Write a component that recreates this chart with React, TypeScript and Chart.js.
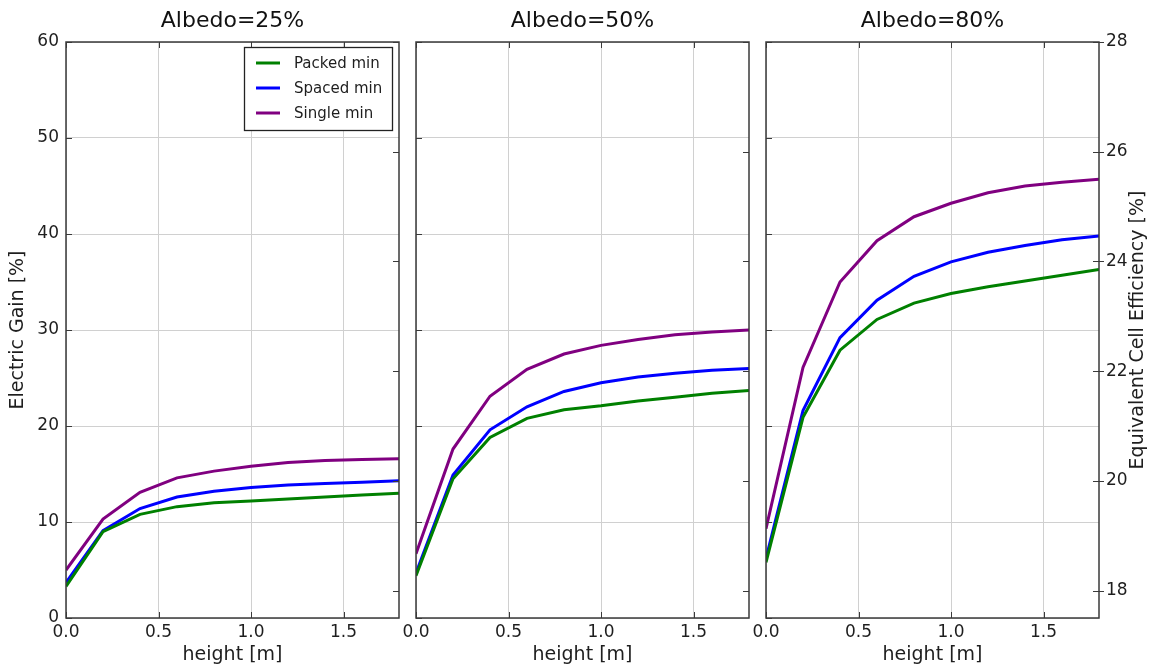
import React, { useEffect, useRef } from "react";
import { Chart, registerables } from "chart.js";

Chart.register(...registerables);

// ---------- data ----------
const heights = [0, 0.2, 0.4, 0.6, 0.8, 1.0, 1.2, 1.4, 1.6, 1.8];
const seriesNames = ["Packed min", "Spaced min", "Single min"];
const seriesColors = ["#008000", "#0000ff", "#800080"];
const albedoTitles = ["Albedo=25%", "Albedo=50%", "Albedo=80%"];

const packed25 = [3.3, 9.0, 10.8, 11.6, 12.0, 12.2, 12.4, 12.6, 12.8, 13.0];
const spaced25 = [3.7, 9.1, 11.4, 12.6, 13.2, 13.6, 13.85, 14.0, 14.15, 14.3];
const single25 = [5.0, 10.3, 13.1, 14.6, 15.3, 15.8, 16.2, 16.4, 16.5, 16.6];

const packed50 = [4.4, 14.5, 18.8, 20.8, 21.7, 22.1, 22.6, 23.0, 23.4, 23.7];
const spaced50 = [4.7, 14.9, 19.6, 22.0, 23.6, 24.5, 25.1, 25.5, 25.8, 26.0];
const single50 = [6.7, 17.6, 23.1, 25.9, 27.5, 28.4, 29.0, 29.5, 29.8, 30.0];

const packed80 = [5.8, 20.9, 27.9, 31.1, 32.8, 33.8, 34.5, 35.1, 35.7, 36.3];
const spaced80 = [6.2, 21.6, 29.2, 33.1, 35.6, 37.1, 38.1, 38.8, 39.4, 39.8];
const single80 = [9.3, 26.1, 35.0, 39.3, 41.8, 43.2, 44.3, 45.0, 45.4, 45.7];

const gainMin = 0;
const gainMax = 60;
const gainStep = 10;
const effMin = 17.5;
const effMax = 28;
const effTicks = [18, 20, 22, 24, 26, 28];
const xMin = 0;
const xMax = 1.8;
const xStep = 0.5;

const panelSeries = [
  [packed25, spaced25, single25],
  [packed50, spaced50, single50],
  [packed80, spaced80, single80],
];

// ---------- style / layout ----------
const FONT = "'DejaVu Sans', sans-serif";
const TEXT = "#1e1e1e";
const GRID = "#d0d0d0";
const SPINE = "#3a3a3a";

const PANELS = [
  { left: 0, width: 408, yWidth: 66, rightPad: 9 },
  { left: 380, width: 380, yWidth: 36, rightPad: 11 },
  { left: 730, width: 422, yWidth: 36, rightPad: 0 },
];

const framePlugin = {
  id: "mplFrame",
  afterDatasetsDraw(chart: any, _args: any, opts: any) {
    const { ctx, chartArea: a, scales } = chart;
    const L = 6;
    ctx.save();
    ctx.strokeStyle = SPINE;
    ctx.lineWidth = 1;
    const seg = (x1: number, y1: number, x2: number, y2: number) => {
      ctx.beginPath();
      ctx.moveTo(x1, y1);
      ctx.lineTo(x2, y2);
      ctx.stroke();
    };
    scales.x.ticks.forEach((t: any) => {
      const px = Math.round(scales.x.getPixelForValue(t.value)) + 0.5;
      seg(px, a.top, px, a.top + L);
      seg(px, a.bottom, px, a.bottom - L);
    });
    scales.y.ticks.forEach((t: any) => {
      const py = Math.round(scales.y.getPixelForValue(t.value)) + 0.5;
      seg(a.left, py, a.left + L, py);
    });
    effTicks.forEach((v) => {
      const py = Math.round(scales.y2.getPixelForValue(v)) + 0.5;
      seg(a.right - L, py, a.right + (opts && opts.effOutward ? 5 : 0), py);
    });
    ctx.lineWidth = 1.5;
    ctx.strokeRect(a.left, a.top, a.right - a.left, a.bottom - a.top);
    ctx.restore();
  },
};

const legendPlugin = {
  id: "mplLegend",
  afterDraw(chart: any, _args: any, opts: any) {
    if (!opts || !opts.show) return;
    const { ctx, chartArea: a } = chart;
    const ds = chart.data.datasets;
    ctx.save();
    ctx.font = `15px ${FONT}`;
    const textW = Math.max(...ds.map((d: any) => ctx.measureText(d.label).width));
    const w = Math.round(12 + 24 + 14 + textW + 10);
    const rowH = 25;
    const h = 16 + rowH * (ds.length - 1) + 17;
    const x0 = Math.round(a.right - 7 - w);
    const y0 = Math.round(a.top + 5);
    ctx.fillStyle = "#fff";
    ctx.fillRect(x0, y0, w, h);
    ctx.strokeStyle = "#222";
    ctx.lineWidth = 1.3;
    ctx.strokeRect(x0 + 0.5, y0 + 0.5, w, h);
    ds.forEach((d: any, k: number) => {
      const y = y0 + 16 + k * rowH;
      ctx.strokeStyle = d.borderColor;
      ctx.lineWidth = 3;
      ctx.beginPath();
      ctx.moveTo(x0 + 12, y);
      ctx.lineTo(x0 + 36, y);
      ctx.stroke();
      ctx.fillStyle = TEXT;
      ctx.textBaseline = "middle";
      ctx.textAlign = "left";
      ctx.fillText(d.label, x0 + 50, y + 1);
    });
    ctx.restore();
  },
};

const rightTitlePlugin = {
  id: "mplRightTitle",
  afterDraw(chart: any, _args: any, opts: any) {
    if (!opts || !opts.text) return;
    const { ctx, chartArea: a } = chart;
    ctx.save();
    ctx.font = `19px ${FONT}`;
    ctx.fillStyle = TEXT;
    ctx.textAlign = "center";
    ctx.textBaseline = "middle";
    ctx.translate(chart.width - 14, (a.top + a.bottom) / 2);
    ctx.rotate(-Math.PI / 2);
    ctx.fillText(opts.text, 0, 0);
    ctx.restore();
  },
};

function makeConfig(i: number): any {
  const p = PANELS[i];
  const showLeft = i === 0;
  const showRight = i === 2;
  const tickFont = { family: FONT, size: 17 };
  const titleFont = { family: FONT, size: 19 };
  return {
    type: "line",
    data: {
      datasets: seriesNames.map((name, k) => ({
        label: name,
        data: heights.map((h, j) => ({ x: h, y: panelSeries[i][k][j] })),
        borderColor: seriesColors[k],
        backgroundColor: seriesColors[k],
        borderWidth: 3,
        pointRadius: 0,
        tension: 0,
        fill: false,
        yAxisID: "y",
      })),
    },
    options: {
      responsive: false,
      maintainAspectRatio: false,
      animation: false,
      events: [],
      layout: { padding: { left: 0, right: p.rightPad, top: 0, bottom: 0 } },
      plugins: {
        legend: { display: false },
        tooltip: { enabled: false },
        title: {
          display: true,
          text: albedoTitles[i],
          fullSize: false,
          color: "#111",
          font: { family: FONT, size: 22, weight: "normal", lineHeight: 1.1 },
          padding: { top: 9, bottom: 8.8 },
        },
        mplLegend: { show: i === 0 },
        mplFrame: { effOutward: showRight },
        mplRightTitle: { text: showRight ? "Equivalent Cell Efficiency [%]" : "" },
      },
      scales: {
        x: {
          type: "linear",
          min: xMin,
          max: xMax,
          grid: { color: GRID, drawTicks: false, lineWidth: 1 },
          border: { display: false },
          ticks: {
            stepSize: xStep,
            includeBounds: false,
            autoSkip: false,
            maxRotation: 0,
            color: TEXT,
            font: tickFont,
            padding: 4,
            callback: (v: any) => Number(v).toFixed(1),
          },
          title: {
            display: true,
            text: "height [m]",
            color: TEXT,
            font: titleFont,
            padding: { top: 0, bottom: 0 },
          },
          afterFit: (s: any) => {
            s.height = 48;
            s.paddingLeft = 0;
            s.paddingRight = 0;
          },
        },
        y: {
          position: "left",
          min: gainMin,
          max: gainMax,
          grid: { color: GRID, drawTicks: false, lineWidth: 1 },
          border: { display: false },
          ticks: {
            stepSize: gainStep,
            display: showLeft,
            color: TEXT,
            font: tickFont,
            padding: 7,
          },
          title: {
            display: showLeft,
            text: "Electric Gain [%]",
            color: TEXT,
            font: titleFont,
            padding: { top: 7, bottom: 0 },
          },
          afterFit: (s: any) => {
            s.width = p.yWidth;
            s.paddingTop = 0;
            s.paddingBottom = 0;
          },
        },
        y2: {
          position: "right",
          display: showRight,
          min: effMin,
          max: effMax,
          grid: { drawOnChartArea: false, drawTicks: false },
          border: { display: false },
          ticks: {
            stepSize: 2,
            includeBounds: false,
            color: TEXT,
            font: tickFont,
            padding: 7,
          },
          afterFit: (s: any) => {
            if (showRight) {
              s.width = 53;
              s.paddingTop = 0;
              s.paddingBottom = 0;
            }
          },
        },
      },
    },
    plugins: [framePlugin, legendPlugin, rightTitlePlugin],
  };
}

export default function App() {
  const r0 = useRef<HTMLCanvasElement>(null);
  const r1 = useRef<HTMLCanvasElement>(null);
  const r2 = useRef<HTMLCanvasElement>(null);
  const refs = [r0, r1, r2];

  useEffect(() => {
    const charts = refs.map((r, i) => new Chart(r.current as HTMLCanvasElement, makeConfig(i)));
    return () => charts.forEach((c) => c.destroy());
  }, []);

  return (
    <div
      style={{
        position: "absolute",
        left: 0,
        top: 0,
        width: 1152,
        height: 666,
        background: "#fff",
        overflow: "hidden",
      }}
    >
      {PANELS.map((p, i) => (
        <canvas
          key={i}
          ref={refs[i]}
          width={p.width}
          height={666}
          style={{ position: "absolute", left: p.left, top: 0, width: p.width, height: 666 }}
        />
      ))}
    </div>
  );
}
